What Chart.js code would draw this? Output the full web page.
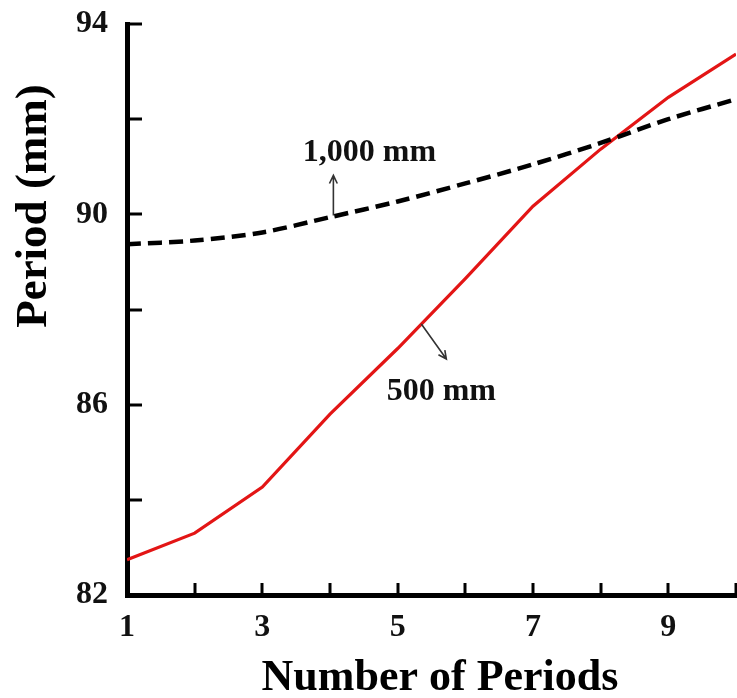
<!DOCTYPE html>
<html>
<head>
<meta charset="utf-8">
<script src="https://cdn.jsdelivr.net/npm/chart.js@4/dist/chart.umd.min.js"></script>
<style>
  html, body { margin: 0; padding: 0; background: #ffffff; }
  #wrap { width: 737px; height: 698px; }
</style>
</head>
<body>
<div id="wrap"><canvas id="c" width="737" height="698"></canvas></div>
<script>
// Number of periods on the horizontal axis
const periods = [1, 2, 3, 4, 5, 6, 7, 8, 9, 10];
// Period length (mm) for the two spacings
const period500 = [82.74, 83.30, 84.27, 85.80, 87.18, 88.65, 90.17, 91.37, 92.46, 93.37];
const period1000 = [89.37, 89.45, 89.62, 89.94, 90.27, 90.65, 91.05, 91.50, 92.00, 92.42];
// Axis ranges and labelled ticks
const xLabelled = [1, 3, 5, 7, 9];
const yLabelled = [82, 86, 90, 94];
const yMin = 82, yMax = 94, yStep = 2;
const xMin = 1, xMax = 10;

const SERIF = '"Liberation Serif", "Times New Roman", serif';

function toPoints(xs, ys) {
  return xs.map((x, i) => ({ x: x, y: ys[i] }));
}

// linear interpolation along a series, for anchoring the callouts on the curves
function valueAt(xs, ys, x) {
  for (let i = 0; i < xs.length - 1; i++) {
    if (x >= xs[i] && x <= xs[i + 1]) {
      const t = (x - xs[i]) / (xs[i + 1] - xs[i]);
      return ys[i] + t * (ys[i + 1] - ys[i]);
    }
  }
  return ys[ys.length - 1];
}

function drawArrow(ctx, x1, y1, x2, y2) {
  const ang = Math.atan2(y2 - y1, x2 - x1);
  const head = 9;
  ctx.beginPath();
  ctx.moveTo(x1, y1);
  ctx.lineTo(x2, y2);
  ctx.moveTo(x2 - head * Math.cos(ang - 0.45), y2 - head * Math.sin(ang - 0.45));
  ctx.lineTo(x2, y2);
  ctx.lineTo(x2 - head * Math.cos(ang + 0.45), y2 - head * Math.sin(ang + 0.45));
  ctx.stroke();
}

// inward tick marks, axis titles and the two curve callouts
const decorations = {
  id: 'decorations',
  afterDraw(chart) {
    const ctx = chart.ctx;
    const xs = chart.scales.x, ys = chart.scales.y;
    const area = chart.chartArea;
    ctx.save();

    // inward tick marks
    ctx.strokeStyle = '#000';
    ctx.lineWidth = 3;
    for (let v = yMin + yStep; v <= yMax; v += yStep) {
      const py = Math.round(ys.getPixelForValue(v));
      ctx.beginPath();
      ctx.moveTo(area.left, py);
      ctx.lineTo(area.left + 15, py);
      ctx.stroke();
    }
    for (let v = xMin + 1; v <= xMax; v += 1) {
      const px = Math.round(xs.getPixelForValue(v));
      ctx.beginPath();
      ctx.moveTo(px, area.bottom);
      ctx.lineTo(px, area.bottom - 12);
      ctx.stroke();
    }

    // axis titles
    ctx.fillStyle = '#000';
    ctx.textAlign = 'center';
    ctx.textBaseline = 'alphabetic';
    ctx.font = 'bold 44px ' + SERIF;
    ctx.fillText('Number of Periods', 440, 690);

    ctx.save();
    ctx.translate(46, 206);
    ctx.rotate(-Math.PI / 2);
    ctx.font = 'bold 45px ' + SERIF;
    ctx.fillText('Period (mm)', 0, 0);
    ctx.restore();

    // callouts
    ctx.strokeStyle = '#333';
    ctx.lineWidth = 1.6;
    const bx = 4.05;
    const bpx = xs.getPixelForValue(bx);
    const bpy = ys.getPixelForValue(valueAt(periods, period1000, bx));
    drawArrow(ctx, bpx, bpy - 1, bpx, bpy - 41);

    const rx = 5.35;
    const rpx = xs.getPixelForValue(rx);
    const rpy = ys.getPixelForValue(valueAt(periods, period500, rx));
    drawArrow(ctx, rpx, rpy, rpx + 25, rpy + 35);

    ctx.font = 'bold 32px ' + SERIF;
    ctx.textBaseline = 'middle';
    ctx.fillStyle = '#111';
    ctx.fillText('1,000 mm', bpx + 36, bpy - 64);
    ctx.fillText('500 mm', rpx + 20, rpy + 68);

    ctx.restore();
  }
};

new Chart(document.getElementById('c'), {
  type: 'line',
  data: {
    datasets: [
      {
        label: '1,000 mm',
        data: toPoints(periods, period1000),
        borderColor: '#000000',
        borderWidth: 4.5,
        borderDash: [14, 7],
        pointRadius: 0,
        tension: 0.3,
        fill: false
      },
      {
        label: '500 mm',
        data: toPoints(periods, period500),
        borderColor: '#e31515',
        borderWidth: 3.2,
        pointRadius: 0,
        tension: 0,
        fill: false
      }
    ]
  },
  options: {
    responsive: false,
    animation: false,
    devicePixelRatio: 1,
    layout: { padding: { top: 24, right: 1, bottom: 0, left: 0 } },
    plugins: {
      legend: { display: false },
      tooltip: { enabled: false }
    },
    scales: {
      x: {
        type: 'linear',
        min: xMin,
        max: xMax,
        afterFit(scale) {
          scale.height = 103;
          scale.paddingLeft = 0;
          scale.paddingRight = 0;
        },
        border: { display: true, color: '#000', width: 5 },
        grid: { display: true, drawOnChartArea: false, drawTicks: false },
        ticks: {
          stepSize: 1,
          autoSkip: false,
          maxRotation: 0,
          padding: 14,
          color: '#111',
          font: { family: SERIF, size: 32, weight: 'bold' },
          callback: (v) => (xLabelled.includes(v) ? String(v) : '')
        }
      },
      y: {
        min: yMin,
        max: yMax,
        afterFit(scale) {
          scale.width = 127;
          scale.paddingTop = 0;
          scale.paddingBottom = 0;
        },
        border: { display: true, color: '#000', width: 5 },
        grid: { display: true, drawOnChartArea: false, drawTicks: false },
        ticks: {
          stepSize: yStep,
          autoSkip: false,
          padding: 19,
          color: '#111',
          font: { family: SERIF, size: 32, weight: 'bold' },
          callback: (v) => (yLabelled.includes(v) ? String(v) : '')
        }
      }
    }
  },
  plugins: [decorations]
});
</script>
</body>
</html>
